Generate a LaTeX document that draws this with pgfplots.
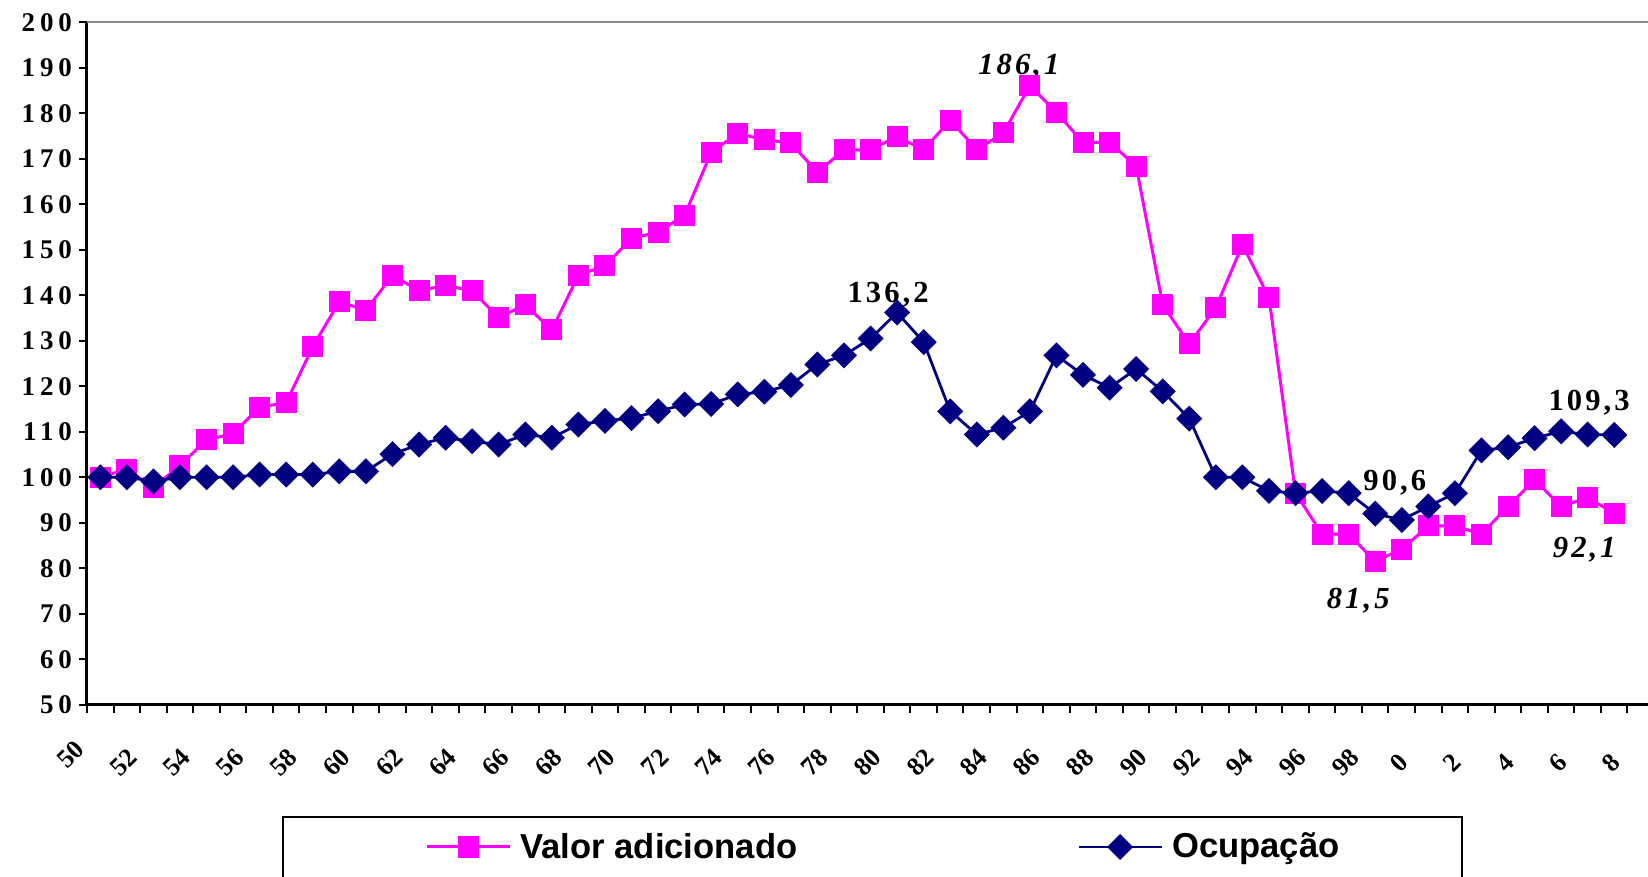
\documentclass[border=0pt]{standalone}
\usepackage{fontspec}
\setmainfont{Liberation Serif}
\newfontfamily\numfont[LetterSpace=18]{Liberation Serif}
\newfontfamily\lblfont[LetterSpace=10]{Liberation Serif}
\newfontfamily\legfont{Liberation Sans}
\usepackage{pgfplots}
\pgfplotsset{compat=1.18}
\definecolor{vapink}{HTML}{FF00FF}
\definecolor{ocnavy}{HTML}{000080}
\definecolor{topgray}{HTML}{8C8C8C}

% ano, valor adicionado, ocupacao (indice)
\pgfplotstableread{
ano va oc
1951 100.0 100.0
1952 101.8 100.0
1953 97.7 99.1
1954 102.6 100.0
1955 108.2 100.0
1956 109.6 100.0
1957 115.4 100.6
1958 116.4 100.6
1959 128.7 100.6
1960 138.6 101.3
1961 136.7 101.3
1962 144.4 105.1
1963 141.0 107.2
1964 142.2 108.7
1965 141.0 107.9
1966 135.1 107.2
1967 137.9 109.4
1968 132.4 108.7
1969 144.4 111.6
1970 146.5 112.4
1971 152.5 113.0
1972 153.9 114.5
1973 157.6 116.0
1974 171.4 116.1
1975 175.6 118.2
1976 174.2 118.8
1977 173.5 120.3
1978 167.0 124.8
1979 172.0 126.8
1980 172.0 130.5
1981 174.9 136.2
1982 172.0 129.7
1983 178.5 114.5
1984 172.0 109.4
1985 175.7 110.9
1986 186.1 114.5
1987 180.2 126.8
1988 173.6 122.5
1989 173.6 119.7
1990 168.4 123.8
1991 137.9 118.9
1992 129.3 112.9
1993 137.3 100.0
1994 151.1 100.0
1995 139.5 97.0
1996 96.5 96.5
1997 87.5 97.0
1998 87.5 96.5
1999 81.5 92.0
2000 84.2 90.6
2001 89.3 93.6
2002 89.3 96.5
2003 87.5 105.9
2004 93.6 106.6
2005 99.4 108.6
2006 93.6 110.1
2007 95.5 109.4
2008 92.1 109.3
}\dados

\begin{document}
\begin{tikzpicture}[
  tickfont/.style={font=\numfont\bfseries\fontsize{13.5}{13.5}\selectfont},
  xfont/.style={font=\bfseries\fontsize{13}{13}\selectfont},
  dlab/.style={font=\lblfont\bfseries\fontsize{15.3}{15}\selectfont, inner sep=0pt, anchor=center},
]
\begin{axis}[
  name=ax, at={(0,0)}, anchor=south west,
  scale only axis, width=780.5pt, height=341.15pt,
  xmin=1950.5, xmax=2009.27, ymin=50, ymax=200,
  axis lines=left, axis line style={-, line width=1.5pt, black},
  tick align=outside,
  /pgf/number format/assume math mode=true,
  ytick={50,60,...,200},
  yticklabel style={tickfont},
  major tick length=4pt, minor tick length=4.3pt,
  tick style={line width=1pt, black},
  xtick={1952,1954,...,2008},
  xticklabels={52,54,56,58,60,62,64,66,68,70,72,74,76,78,80,82,84,86,88,90,92,94,96,98,0,2,4,6,8},
  minor xtick={1950.5,1951.5,...,2009.5},
  major x tick style={draw=none},
  xticklabel style={xfont, anchor=center, yshift=-25pt, xshift=-1.5pt, rotate=45},
  clip=false,
  legend style={draw=none, fill=none, at={(0.21653,-0.20856)}, anchor=west,
    legend columns=2, inner sep=0pt, row sep=0pt,
    font=\legfont\bfseries\fontsize{17.3}{18}\selectfont,
    nodes={inner xsep=0pt, inner ysep=0pt},
    /tikz/every odd column/.append style={column sep=4.5pt},
    /tikz/every even column/.append style={column sep=140pt}},
  legend cell align=left,
  legend image code/.code={
    \draw[mark repeat=2,mark phase=2] plot coordinates {(0pt,0pt) (20.75pt,0pt) (41.5pt,0pt)};
  },
]
\draw[topgray, line width=1pt] (rel axis cs:0,1) -- (rel axis cs:1,1);

\addplot[vapink, line width=1.5pt, mark=square*, mark size=4.5pt,
  mark options={solid, fill=vapink, draw=vapink}] table[x=ano, y=va] {\dados};
\addlegendentry{Valor adicionado}
\addplot[ocnavy, line width=1.4pt, mark=square*, mark size=3.9pt,
  mark options={solid, fill=ocnavy, draw=ocnavy, rotate=45}] table[x=ano, y=oc] {\dados};
\addlegendentry{Ocupação}

\node[xfont, anchor=center, rotate=45] at ([xshift=-1.5pt, yshift=-25pt]axis cs:1950,50) {50};

\node[dlab] at ([xshift=-5.5pt, yshift=9.5pt]axis cs:1986,186.1) {\itshape 186,1};
\node[dlab] at ([xshift=-4.5pt, yshift=9pt]axis cs:1981,136.2) {136,2};
\node[dlab] at ([xshift=-3.5pt, yshift=18.8pt]axis cs:2000,90.6) {90,6};
\node[dlab] at ([xshift=-8.5pt, yshift=-19.5pt]axis cs:1999,81.5) {\itshape 81,5};
\node[dlab] at ([xshift=-12.6pt, yshift=16.1pt]axis cs:2008,109.3) {109,3};
\node[dlab] at ([xshift=-15pt, yshift=-18.5pt]axis cs:2008,92.1) {\itshape 92,1};
\end{axis}

\draw[line width=1.2pt] ([shift={(98pt,-56.15pt)}]ax.south west) rectangle ([shift={(687.5pt,-95pt)}]ax.south west);

\pgfresetboundingbox
\path ([shift={(-43.5pt,-86.15pt)}]ax.south west) rectangle ([shift={(780.5pt,352.35pt)}]ax.south west);
\end{tikzpicture}
\end{document}
